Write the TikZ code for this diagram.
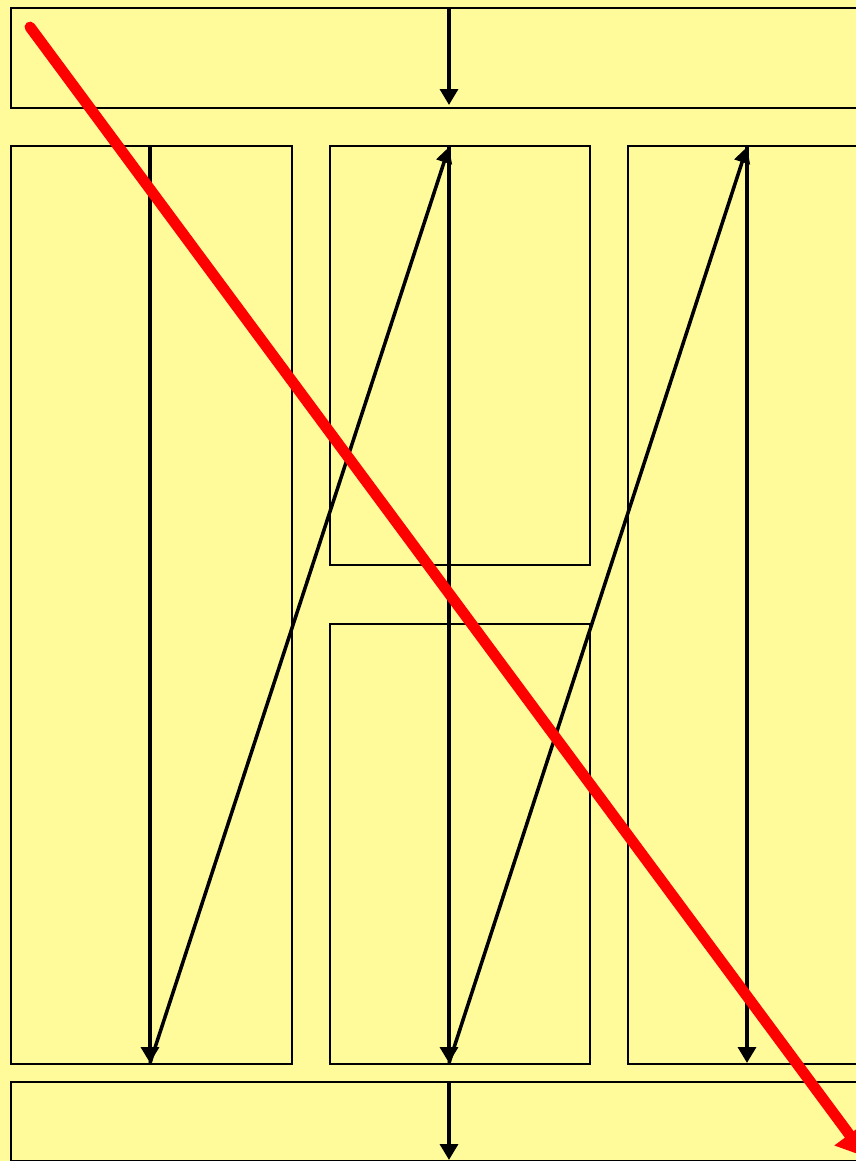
\documentclass[tikz,border=0pt]{standalone}
\usetikzlibrary{arrows.meta}

\definecolor{paleyellow}{HTML}{FFFB9A}
\definecolor{crossred}{HTML}{FF0000}

\tikzset{
  box/.style={draw=black, line width=1.1pt, anchor=north west, inner sep=0pt},
  flow/.style={line width=2.4pt, -{Triangle[width=10pt,length=9pt]}},
  zig/.style={line width=2pt, -{Triangle[width=9pt,length=9pt]}},
}

\begin{document}
\begin{tikzpicture}[x=0.02cm, y=-0.02cm, line cap=butt, line join=miter]

% ---------- Page ----------
\fill[paleyellow] (0,0) rectangle (856,1161);
\useasboundingbox (0,0) rectangle (856,1161);
\clip (0,0) rectangle (856,1161);

% ---------- Boxes ----------
\node[box, minimum width=17.2cm, minimum height=2cm] (top) at (10,7) {};
\node[box, minimum width=5.62cm, minimum height=18.36cm] (colA) at (10,145) {};
\node[box, minimum width=5.2cm, minimum height=8.38cm] (colBup) at (329,145) {};
\node[box, minimum width=5.2cm, minimum height=8.8cm] (colBlow) at (329,623) {};
\node[box, minimum width=4.86cm, minimum height=18.36cm] (colC) at (627,145) {};
\node[box, minimum width=17.2cm, minimum height=1.58cm] (bottom) at (10,1081) {};

% ---------- Arrow ends ----------
\coordinate (tIn)  at (449,7);
\coordinate (tOut) at (449,105);
\coordinate (aTop) at (150,145);
\coordinate (aBot) at (150,1063);
\coordinate (bTop) at (449,147);
\coordinate (bBot) at (449,1063);
\coordinate (cTop) at (747,147);
\coordinate (cBot) at (747,1063);
\coordinate (eIn)  at (449,1081);
\coordinate (eOut) at (449,1160);
\coordinate (rStart) at (30,27);
\coordinate (rEnd)   at (866,1157);

% ---------- Flow ----------
\draw[flow] (tIn) -- (tOut);
\draw[flow] (aTop) -- (aBot);
\draw[zig]  (aBot) -- (bTop);
\draw[flow] (bTop) -- (bBot);
\draw[zig]  (bBot) -- (cTop);
\draw[flow] (cTop) -- (cBot);
\draw[flow] (eIn) -- (eOut);

% ---------- Red cross-out ----------
\draw[crossred, line width=6.2pt, line cap=round,
      -{Triangle[width=20pt,length=16pt]}] (rStart) -- (rEnd);

\end{tikzpicture}
\end{document}
